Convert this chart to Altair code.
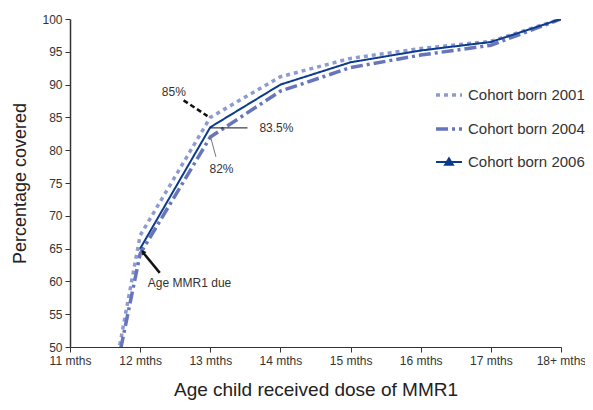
import altair as alt
import pandas as pd

months = ["11 mths", "12 mths", "13 mths", "14 mths", "15 mths", "16 mths", "17 mths", "18+ mths"]
series_names = ["Cohort born 2001", "Cohort born 2004", "Cohort born 2006"]
cohort_2001 = [9.5, 67.0, 85.0, 91.2, 94.0, 95.5, 96.6, 100.0]
cohort_2004 = [12.0, 64.2, 82.0, 89.0, 92.6, 94.5, 96.0, 100.0]
cohort_2006 = [None, 65.0, 83.5, 90.0, 93.4, 95.2, 96.5, 100.0]

colors = ["#8e9bd3", "#6775bb", "#0b3b8c"]
dashes = [[4, 4], [12, 4, 3, 4], [1, 0]]
widths = [3.5, 3.5, 2]

rows = []
for name, vals in zip(series_names, [cohort_2001, cohort_2004, cohort_2006]):
    for i, v in enumerate(vals):
        if v is not None:
            rows.append({"m": i, "v": v, "series": name})
df = pd.DataFrame(rows)

# annotations (month index, percentage)
ann_text = ["85%", "83.5%", "82%", "Age MMR1 due"]
ann_x = [1.48, 2.70, 2.16, 1.11]
ann_y = [88.9, 83.4, 77.2, 59.8]
ann_align = ["center", "left", "center", "left"]

label_expr = "[" + ",".join("'" + m + "'" for m in months) + "][datum.value]"

x_scale = alt.Scale(domain=[0, 7], nice=False, zero=False)
y_scale = alt.Scale(domain=[50, 100], nice=False, zero=False)
x_axis = alt.Axis(values=list(range(8)), labelExpr=label_expr, labelFlush=False,
                  title="Age child received dose of MMR1", grid=False, titlePadding=14,
                  titleFontSize=19)
y_axis = alt.Axis(values=list(range(50, 101, 5)), title="Percentage covered", grid=False,
                  titlePadding=12, labelOverlap=False, titleFontSize=18)


def X():
    return alt.X("m:Q", scale=x_scale, axis=x_axis)


def Y():
    return alt.Y("v:Q", scale=y_scale, axis=y_axis)


leg = dict(title=None, orient="none", legendX=364, legendY=61,
           symbolSize=676, symbolStrokeWidth=3,
           labelFontSize=15, labelColor="#333333",
           labelFont="Liberation Sans", rowPadding=11, labelOffset=4)

lines = alt.Chart(df).mark_line(clip=True).encode(
    x=X(), y=Y(),
    color=alt.Color("series:N", scale=alt.Scale(domain=series_names, range=colors),
                    legend=alt.Legend(**leg)),
    strokeDash=alt.StrokeDash("series:N", scale=alt.Scale(domain=series_names, range=dashes),
                              legend=alt.Legend(**leg)),
    strokeWidth=alt.StrokeWidth("series:N", scale=alt.Scale(type="ordinal", domain=series_names,
                                                            range=widths), legend=None),
)

points = alt.Chart(df[df.series == "Cohort born 2006"]).mark_point(
    filled=True, size=55, opacity=1, clip=True).encode(
    x=X(), y=Y(),
    color=alt.Color("series:N", scale=alt.Scale(domain=series_names, range=colors)),
    shape=alt.Shape("series:N", scale=alt.Scale(
        domain=series_names,
        range=["stroke", "stroke", "M-1,0L1,0M-0.3,0.22L0,-0.28L0.3,0.22Z"]),
        legend=alt.Legend(**leg)),
)


def seg(x, x2, y, y2, **style):
    d = pd.DataFrame({"m": [x], "m2": [x2], "v": [y], "v2": [y2]})
    return alt.Chart(d).mark_rule(**style).encode(x=X(), x2="m2:Q", y=Y(), y2="v2:Q")


seg85 = seg(1.62, 1.96, 87.6, 85.2, color="#111111", strokeWidth=2.5, strokeDash=[5, 3])
seg835 = seg(2.0, 2.53, 83.4, 83.4, color="#111111", strokeWidth=1)
seg82 = seg(2.0, 2.08, 82.2, 79.0, color="#777777", strokeWidth=1)
segmmr = seg(1.05, 1.28, 64.3, 61.3, color="#111111", strokeWidth=2.5)
arrowhead = alt.Chart(pd.DataFrame({"m": [1.04], "v": [64.5]})).mark_point(
    shape="triangle-up", filled=True, color="#111111", size=30, angle=322, opacity=1).encode(
    x=X(), y=Y())

ann_df = pd.DataFrame({"t": ann_text, "m": ann_x, "v": ann_y, "a": ann_align})
texts = alt.layer(*[
    alt.Chart(ann_df[ann_df.a == a]).mark_text(
        align=a, baseline="middle", fontSize=12, color="#333333", font="Liberation Sans").encode(
        x=X(), y=Y(), text="t:N")
    for a in ["center", "left"]
])

chart = alt.layer(lines, points, seg85, seg835, seg82, segmmr, arrowhead, texts).properties(
    width=491, height=328,
    padding={"left": 62, "top": 11, "right": 24, "bottom": 55},
    autosize=alt.AutoSizeParams(type="none"),
).configure_view(stroke=None).configure_axis(
    domainColor="#333333", tickColor="#333333", labelColor="#333333", labelFontSize=12,
    labelFont="Liberation Sans", titleFont="Liberation Sans",
    titleFontWeight="normal", titleColor="#222222", tickSize=5, labelPadding=3,
).configure_axisY(domainWidth=1.5)

chart.save("out.html", embed_options={"renderer": "svg", "actions": False})
